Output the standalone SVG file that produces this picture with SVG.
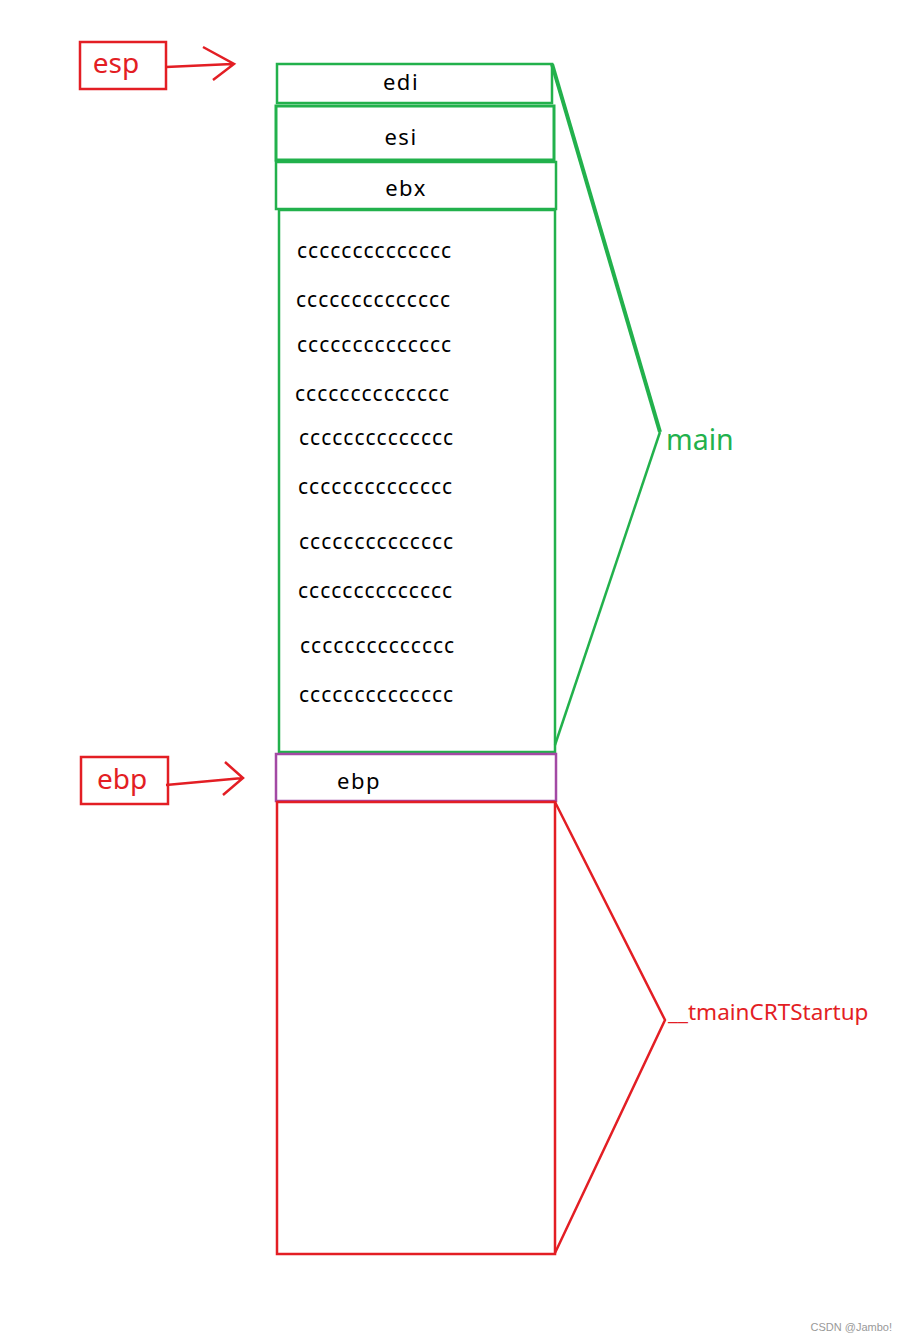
<svg xmlns="http://www.w3.org/2000/svg" width="905" height="1341" viewBox="0 0 905 1341">
<style>
.g{fill:none;stroke:#22b14c;stroke-width:2.5}
.r{fill:none;stroke:#e31e24;stroke-width:2.5}
.p{fill:none;stroke:#a349a4;stroke-width:2.5}
.t{font-family:"Noto Sans","Open Sans",sans-serif;fill:#000;font-size:22px;letter-spacing:1.5px}
.c{font-family:"Noto Sans","Open Sans",sans-serif;fill:#000;font-size:21px;letter-spacing:1px}
.rt{font-family:"Noto Sans","Open Sans",sans-serif;fill:#e31e24}
.gt{font-family:"Noto Sans","Open Sans",sans-serif;fill:#22b14c}
</style>
<rect width="905" height="1341" fill="#fff"/>
<g id="esp-label">
<rect class="r" x="80" y="42" width="86" height="47"/>
<text class="rt" x="116" y="73" font-size="28" text-anchor="middle">esp</text>
</g>
<g id="ebp-label">
<rect class="r" x="81" y="757" width="87" height="47"/>
<text class="rt" x="122" y="789" font-size="28" text-anchor="middle">ebp</text>
</g>
<g id="edi">
<rect class="g" x="277" y="64" width="275" height="39"/>
<text class="t" x="401" y="90" text-anchor="middle">edi</text>
</g>
<g id="esi">
<rect class="g" x="276" y="106" width="278" height="54" style="stroke-width:3"/>
<text class="t" x="401" y="145" text-anchor="middle">esi</text>
</g>
<g id="ebx">
<rect class="g" x="276" y="162" width="280" height="47"/>
<text class="t" x="406" y="196" text-anchor="middle">ebx</text>
</g>
<g id="locals">
<rect class="g" x="279" y="210" width="276" height="542"/>
<text class="c" x="297" y="258">cccccccccccccc</text>
<text class="c" x="296" y="307">cccccccccccccc</text>
<text class="c" x="297" y="352">cccccccccccccc</text>
<text class="c" x="295" y="401">cccccccccccccc</text>
<text class="c" x="299" y="445">cccccccccccccc</text>
<text class="c" x="298" y="494">cccccccccccccc</text>
<text class="c" x="299" y="549">cccccccccccccc</text>
<text class="c" x="298" y="598">cccccccccccccc</text>
<text class="c" x="300" y="653">cccccccccccccc</text>
<text class="c" x="299" y="702">cccccccccccccc</text>
</g>
<g id="ebp">
<rect class="p" x="276" y="754" width="280" height="47"/>
<text class="t" x="337" y="789">ebp</text>
</g>
<g id="tmain-frame">
<rect class="r" x="277" y="802" width="278" height="452"/>
</g>
<g id="main-label">
<text class="gt" x="666" y="450" font-size="28.5">main</text>
</g>
<g id="crt-label">
<text class="rt" x="668" y="1020" font-size="22.5">__tmainCRTStartup</text>
</g>
<g id="connectors">
<path class="r" d="M166 67 L232 64 M203 47 L234 64 L213 80"/>
<path class="r" d="M166 785 L243 778 M225 762 L243 778 L223 795"/>
<path class="g" d="M552 64 L660 432" style="stroke-width:4"/>
<path class="g" d="M660 432 L555 745"/>
<path class="r" d="M555 802 L665 1020 L555 1253"/>
</g>
<text x="892" y="1331" font-family="Liberation Sans, sans-serif" font-size="11" fill="#999" text-anchor="end">CSDN @Jambo!</text>
</svg>
